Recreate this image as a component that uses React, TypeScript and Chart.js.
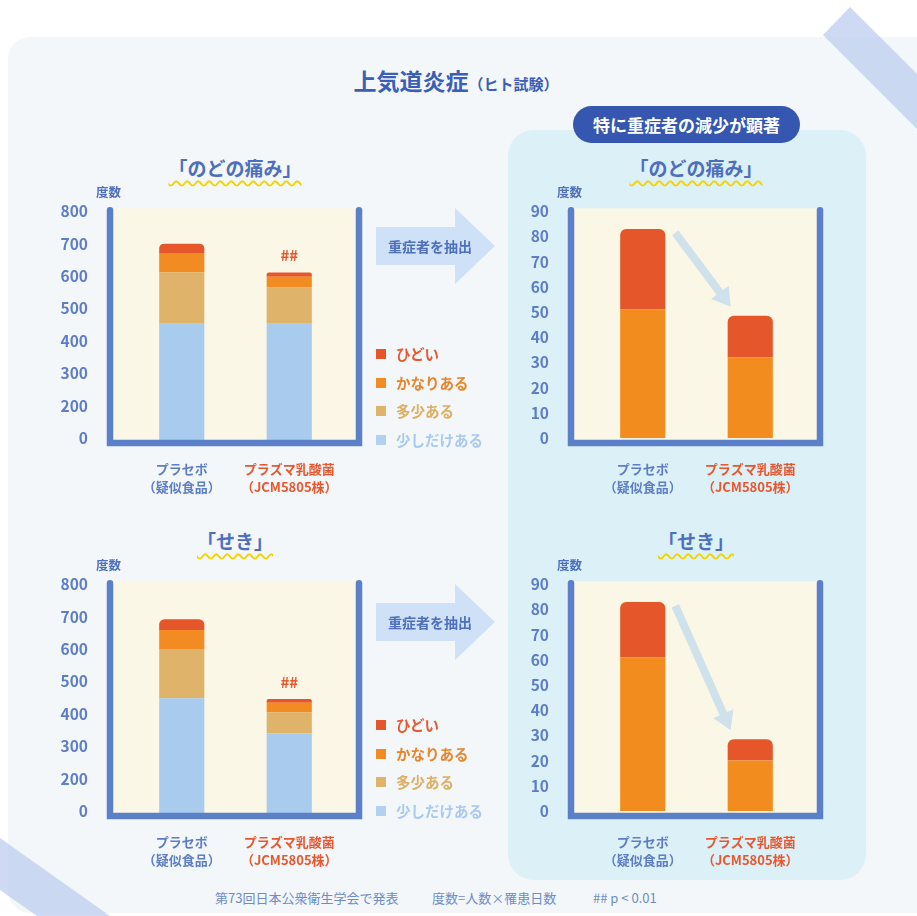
import React, { useEffect, useRef } from 'react';
import { Chart, registerables } from 'chart.js';
Chart.register(...registerables);

// ---------- data ----------
const categories = [
  ['プラセボ', '（疑似食品）'],
  ['プラズマ乳酸菌', '（JCM5805株）'],
];
const severityLabels = ['少しだけある', '多少ある', 'かなりある', 'ひどい'];
const allTickLabels = ['0', '200', '300', '400', '500', '600', '700', '800'];

const throatSlight = [453, 453];
const throatModerate = [158, 112];
const throatFair = [60, 33];
const throatSevere = [29, 13];

const coughSlight = [448, 339];
const coughModerate = [152, 65];
const coughFair = [59, 30];
const coughSevere = [33, 12];

const throatHeavyFair = [51, 32];
const throatHeavySevere = [32, 16.5];
const coughHeavyFair = [61, 20];
const coughHeavySevere = [22, 8.5];

const significance = ['', '##'];

// ---------- styles ----------
const FONT = "'Noto Sans CJK JP', 'Noto Sans', sans-serif";
const C_SLIGHT = '#a9cbee';
const C_MODERATE = '#dfb46a';
const C_FAIR = '#f28b22';
const C_SEVERE = '#e5572b';
const LEGEND_TEXT = ['#a9c9ee', '#deae63', '#e8852a', '#e95a32'];
const AXIS = '#5b7fc8';
const TICK = '#5d7ec6';
const TITLE = '#4d6fbe';
const RED = '#e9572f';
const CREAM = '#faf7e6';

type DS = { label: string; data: number[]; color: string };
type Props = {
  left: number;
  top: number;
  datasets: DS[];
  yMin: number;
  yMax: number;
  step: number;
  tickLabels?: string[];
  marks?: string[];
  trendArrow?: boolean;
};

const CW = 350;
const CH = 330;

function StackChart(p: Props) {
  const ref = useRef<HTMLCanvasElement>(null);
  useEffect(() => {
    const last = p.datasets.length - 1;
    const deco = {
      id: 'deco',
      beforeDraw(chart: any) {
        const { ctx, chartArea: a } = chart;
        ctx.save();
        ctx.fillStyle = CREAM;
        ctx.fillRect(a.left - 15, a.top - 3, a.right - a.left + 28, a.bottom - a.top + 7);
        ctx.restore();
      },
      afterDatasetsDraw(chart: any) {
        const { ctx, chartArea: a } = chart;
        ctx.save();
        // frame
        ctx.strokeStyle = AXIS;
        ctx.lineWidth = 6.5;
        ctx.lineCap = 'round';
        ctx.lineJoin = 'miter';
        ctx.beginPath();
        ctx.moveTo(a.left - 18, a.top - 1);
        ctx.lineTo(a.left - 18, a.bottom + 5);
        ctx.lineTo(a.right + 16, a.bottom + 5);
        ctx.lineTo(a.right + 16, a.top - 1);
        ctx.stroke();
        // unit label
        ctx.fillStyle = TITLE;
        ctx.font = `bold 12.5px ${FONT}`;
        ctx.textAlign = 'left';
        ctx.textBaseline = 'middle';
        ctx.fillText('度数', a.left - 32, a.top - 19);
        const meta = chart.getDatasetMeta(last);
        // significance marks
        if (p.marks) {
          ctx.fillStyle = RED;
          ctx.font = `bold 15px ${FONT}`;
          ctx.textAlign = 'center';
          p.marks.forEach((m, i) => {
            const el = meta.data[i];
            if (m && el) ctx.fillText(m, el.x, el.y - 17);
          });
        }
        // trend arrow
        if (p.trendArrow && meta.data.length > 1) {
          const e0 = meta.data[0];
          const e1 = meta.data[1];
          const sx = e0.x + e0.width / 2 + 10;
          const sy = e0.y + 4;
          const ex = e1.x - e1.width / 2 + 3;
          const ey = e1.y - 9;
          const dx = ex - sx;
          const dy = ey - sy;
          const len = Math.hypot(dx, dy);
          const ux = dx / len;
          const uy = dy / len;
          const hl = 18;
          const hw = 11;
          const bx = ex - ux * hl;
          const by = ey - uy * hl;
          ctx.strokeStyle = '#cfe1eb';
          ctx.fillStyle = '#cfe1eb';
          ctx.lineWidth = 8;
          ctx.lineCap = 'butt';
          ctx.beginPath();
          ctx.moveTo(sx, sy);
          ctx.lineTo(bx + ux * 2, by + uy * 2);
          ctx.stroke();
          ctx.beginPath();
          ctx.moveTo(ex, ey);
          ctx.lineTo(bx - uy * hw, by + ux * hw);
          ctx.lineTo(bx + uy * hw, by - ux * hw);
          ctx.closePath();
          ctx.fill();
        }
        ctx.restore();
      },
    };
    const chart = new Chart(ref.current as HTMLCanvasElement, {
      type: 'bar',
      data: {
        labels: categories,
        datasets: p.datasets.map((d, i) => ({
          label: d.label,
          data: d.data,
          backgroundColor: d.color,
          borderWidth: 0,
          borderRadius: i === last ? { topLeft: 6, topRight: 6, bottomLeft: 0, bottomRight: 0 } : 0,
          barPercentage: 0.42,
          categoryPercentage: 1,
          clip: { left: 5, right: 5, top: 5, bottom: 4 } as any,
        })),
      },
      options: {
        responsive: false,
        animation: false,
        layout: { padding: { top: 0, right: 37, left: 0, bottom: 0 } },
        plugins: { legend: { display: false }, tooltip: { enabled: false } },
        scales: {
          x: {
            stacked: true,
            grid: { display: false },
            border: { display: false },
            ticks: {
              padding: 14,
              maxRotation: 0,
              autoSkip: false,
              color: (c: any) => (c.index === 0 ? TICK : RED),
              font: { family: FONT, size: 13, weight: 'bold', lineHeight: 1.38 },
            },
            afterFit: (s: any) => {
              s.height = 62;
            },
          },
          y: {
            stacked: true,
            min: p.yMin,
            max: p.yMax,
            grid: { display: false },
            border: { display: false },
            ticks: {
              stepSize: p.step,
              padding: 32,
              color: TICK,
              font: { family: FONT, size: 15.5, weight: 'bold', lineHeight: 1.2 },
              callback: (v: any, i: number) => (p.tickLabels ? p.tickLabels[i] : String(v)),
            },
            afterFit: (s: any) => {
              s.width = 98;
            },
          },
        },
      },
      plugins: [deco],
    } as any);
    return () => chart.destroy();
  }, []);
  return (
    <canvas
      ref={ref}
      width={CW}
      height={CH}
      style={{ position: 'absolute', left: p.left, top: p.top, width: CW, height: CH }}
    />
  );
}

function Txt(props: {
  x: number;
  y: number;
  size: number;
  color: string;
  weight?: number;
  align?: 'left' | 'center';
  children: React.ReactNode;
  style?: React.CSSProperties;
}) {
  const lh = Math.round(props.size * 1.4);
  const center = props.align === 'center';
  return (
    <div
      style={{
        position: 'absolute',
        left: center ? props.x - 200 : props.x,
        width: center ? 400 : undefined,
        top: props.y - lh / 2,
        lineHeight: `${lh}px`,
        fontSize: props.size,
        color: props.color,
        fontWeight: props.weight ?? 700,
        fontFamily: FONT,
        textAlign: center ? 'center' : 'left',
        whiteSpace: 'nowrap',
        ...props.style,
      }}
    >
      {props.children}
    </div>
  );
}

function SectionTitle({ x, y, text }: { x: number; y: number; text: string }) {
  return (
    <Txt x={x} y={y} size={19} color={TITLE} align="center">
      <span
        style={{
          textDecorationLine: 'underline',
          textDecorationStyle: 'wavy',
          textDecorationColor: '#f2d400',
          textDecorationThickness: '2px',
          textUnderlineOffset: '4px',
        }}
      >
        {text}
      </span>
    </Txt>
  );
}

function BlockArrow({ top }: { top: number }) {
  return (
    <>
      <div
        style={{
          position: 'absolute',
          left: 376,
          top,
          width: 119,
          height: 76,
          background: '#cfe1f6',
          clipPath: 'polygon(0 19px, 79px 19px, 79px 0, 119px 38px, 79px 76px, 79px 57px, 0 57px)',
        }}
      />
      <Txt x={430} y={top + 38} size={14} color={TITLE} align="center">
        重症者を抽出
      </Txt>
    </>
  );
}

function Legend({ top }: { top: number }) {
  const colors = [C_SLIGHT, C_MODERATE, C_FAIR, C_SEVERE];
  const order = [3, 2, 1, 0];
  return (
    <>
      {order.map((idx, r) => (
        <React.Fragment key={idx}>
          <div
            style={{
              position: 'absolute',
              left: 376,
              top: top + r * 28.7 - 5,
              width: 10,
              height: 10,
              background: idx === 0 ? '#b2d0f0' : colors[idx],
            }}
          />
          <Txt x={396} y={top + r * 28.7} size={14.5} color={LEGEND_TEXT[idx]}>
            {severityLabels[idx]}
          </Txt>
        </React.Fragment>
      ))}
    </>
  );
}

export default function App() {
  const fullThroat: DS[] = [
    { label: severityLabels[0], data: throatSlight, color: C_SLIGHT },
    { label: severityLabels[1], data: throatModerate, color: C_MODERATE },
    { label: severityLabels[2], data: throatFair, color: C_FAIR },
    { label: severityLabels[3], data: throatSevere, color: C_SEVERE },
  ];
  const fullCough: DS[] = [
    { label: severityLabels[0], data: coughSlight, color: C_SLIGHT },
    { label: severityLabels[1], data: coughModerate, color: C_MODERATE },
    { label: severityLabels[2], data: coughFair, color: C_FAIR },
    { label: severityLabels[3], data: coughSevere, color: C_SEVERE },
  ];
  const heavyThroat: DS[] = [
    { label: severityLabels[2], data: throatHeavyFair, color: '#f38c1f' },
    { label: severityLabels[3], data: throatHeavySevere, color: C_SEVERE },
  ];
  const heavyCough: DS[] = [
    { label: severityLabels[2], data: coughHeavyFair, color: '#f38c1f' },
    { label: severityLabels[3], data: coughHeavySevere, color: C_SEVERE },
  ];

  return (
    <div
      style={{
        position: 'absolute',
        left: 0,
        top: 0,
        width: 917,
        height: 916,
        overflow: 'hidden',
        background: '#ffffff',
        fontFamily: FONT,
      }}
    >
      <div
        style={{
          position: 'absolute',
          left: 8,
          top: 37,
          width: 960,
          height: 876,
          borderRadius: 22,
          background: '#f3f7f9',
        }}
      />
      <div
        style={{
          position: 'absolute',
          left: 508,
          top: 130,
          width: 358,
          height: 750,
          borderRadius: 26,
          background: '#dcf0f8',
        }}
      />
      <div
        style={{
          position: 'absolute',
          left: 573,
          top: 106,
          width: 227,
          height: 37,
          borderRadius: 19,
          background: '#3557b0',
          color: '#ffffff',
          fontFamily: FONT,
          fontWeight: 700,
          fontSize: 17,
          lineHeight: '37px',
          textAlign: 'center',
        }}
      >
        特に重症者の減少が顕著
      </div>

      <Txt x={456} y={80} size={23} color="#3b5fb6" align="center">
        上気道炎症<span style={{ fontSize: 15 }}>（ヒト試験）</span>
      </Txt>

      <SectionTitle x={235} y={167} text="「のどの痛み」" />
      <SectionTitle x={696} y={167} text="「のどの痛み」" />
      <SectionTitle x={235} y={540} text="「せき」" />
      <SectionTitle x={696} y={540} text="「せき」" />

      <StackChart left={30} top={170} datasets={fullThroat} yMin={100} yMax={800} step={100} tickLabels={allTickLabels} marks={significance} />
      <StackChart left={491} top={170} datasets={heavyThroat} yMin={0} yMax={90} step={10} trendArrow />
      <StackChart left={30} top={543} datasets={fullCough} yMin={100} yMax={800} step={100} tickLabels={allTickLabels} marks={significance} />
      <StackChart left={491} top={543} datasets={heavyCough} yMin={0} yMax={90} step={10} trendArrow />

      <BlockArrow top={208} />
      <BlockArrow top={584} />
      <Legend top={354} />
      <Legend top={725} />

      <Txt x={215} y={898} size={13} color="#6f8cc9" weight={400}>
        第73回日本公衆衛生学会で発表
      </Txt>
      <Txt x={432} y={898} size={13} color="#6f8cc9" weight={400}>
        度数=人数×罹患日数
      </Txt>
      <Txt x={593} y={898} size={13} color="#6f8cc9" weight={400}>
        ## p &lt; 0.01
      </Txt>

      <svg width={917} height={916} style={{ position: 'absolute', left: 0, top: 0, pointerEvents: 'none' }}>
        <polygon points="850,7 917,74 917,129 823,35" fill="#b9cbee" opacity={0.7} />
        <polygon points="0,838 110,916 37,916 0,890" fill="#b9cbee" opacity={0.7} />
      </svg>
    </div>
  );
}
